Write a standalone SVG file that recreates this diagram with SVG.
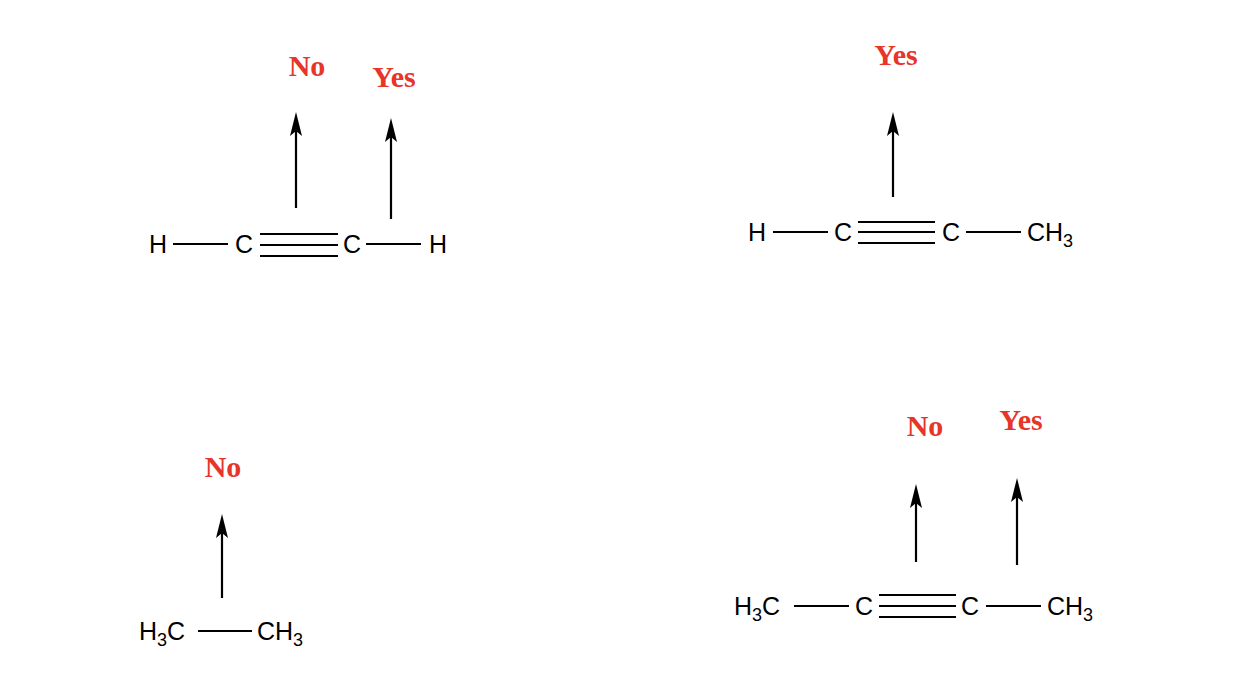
<svg xmlns="http://www.w3.org/2000/svg" width="1236" height="696" viewBox="0 0 1236 696">
<defs>
<path id="ah" d="M0,0 L6,24 L0,19 L-6,24 Z" fill="#000"/>
<style>
.b{stroke:#000;stroke-width:2.2;fill:none}
.t{font-family:"Liberation Sans",Arial,sans-serif;font-size:25px;fill:#000;text-anchor:middle}
.l{font-family:"Liberation Sans",Arial,sans-serif;font-size:25px;fill:#000;text-anchor:start}
.s{font-size:18px}
.r{font-family:"Liberation Serif","Times New Roman",serif;font-weight:bold;font-size:30px;fill:#e8352a;text-anchor:middle}
</style>
</defs>
<rect width="1236" height="696" fill="#fff"/>
<g id="connectors">
<line class="b" x1="173" y1="244" x2="228" y2="244"/>
<line class="b" x1="260" y1="234" x2="338" y2="234"/>
<line class="b" x1="260" y1="245" x2="338" y2="245"/>
<line class="b" x1="260" y1="256" x2="338" y2="256"/>
<line class="b" x1="366" y1="244" x2="421" y2="244"/>
<line class="b" x1="296" y1="125" x2="296" y2="208"/><use href="#ah" x="296" y="112"/>
<line class="b" x1="391" y1="131" x2="391" y2="219"/><use href="#ah" x="391" y="118"/>
<line class="b" x1="773" y1="232" x2="828" y2="232"/>
<line class="b" x1="858" y1="222" x2="935" y2="222"/>
<line class="b" x1="858" y1="232" x2="935" y2="232"/>
<line class="b" x1="858" y1="243" x2="935" y2="243"/>
<line class="b" x1="966" y1="232" x2="1021" y2="232"/>
<line class="b" x1="893" y1="125" x2="893" y2="197"/><use href="#ah" x="893" y="112"/>
<line class="b" x1="198" y1="631" x2="252" y2="631"/>
<line class="b" x1="222" y1="527" x2="222" y2="598"/><use href="#ah" x="222" y="514"/>
<line class="b" x1="794" y1="606" x2="849" y2="606"/>
<line class="b" x1="879" y1="595" x2="956" y2="595"/>
<line class="b" x1="879" y1="606" x2="956" y2="606"/>
<line class="b" x1="879" y1="617" x2="956" y2="617"/>
<line class="b" x1="986" y1="606" x2="1041" y2="606"/>
<line class="b" x1="916" y1="497" x2="916" y2="562"/><use href="#ah" x="916" y="484"/>
<line class="b" x1="1017" y1="491" x2="1017" y2="565"/><use href="#ah" x="1017" y="478"/>
</g>
<g id="m1">
<text class="t" x="158" y="253">H</text><text class="t" x="244" y="253">C</text><text class="t" x="352" y="253">C</text><text class="t" x="438" y="253">H</text>
<text class="r" x="307" y="76">No</text><text class="r" x="394" y="87">Yes</text>
</g>
<g id="m2">
<text class="t" x="757" y="241">H</text><text class="t" x="843" y="241">C</text><text class="t" x="951" y="241">C</text>
<text class="l" x="1027" y="241">CH<tspan class="s" dy="6">3</tspan></text>
<text class="r" x="896" y="65">Yes</text>
</g>
<g id="m3">
<text class="l" x="139" y="640">H<tspan class="s" dy="6">3</tspan><tspan dy="-6">C</tspan></text>
<text class="l" x="257" y="640">CH<tspan class="s" dy="6">3</tspan></text>
<text class="r" x="223" y="477">No</text>
</g>
<g id="m4">
<text class="l" x="734" y="615">H<tspan class="s" dy="6">3</tspan><tspan dy="-6">C</tspan></text>
<text class="t" x="864" y="615">C</text><text class="t" x="970" y="615">C</text>
<text class="l" x="1047" y="615">CH<tspan class="s" dy="6">3</tspan></text>
<text class="r" x="925" y="436">No</text><text class="r" x="1021" y="430">Yes</text>
</g>
</svg>
